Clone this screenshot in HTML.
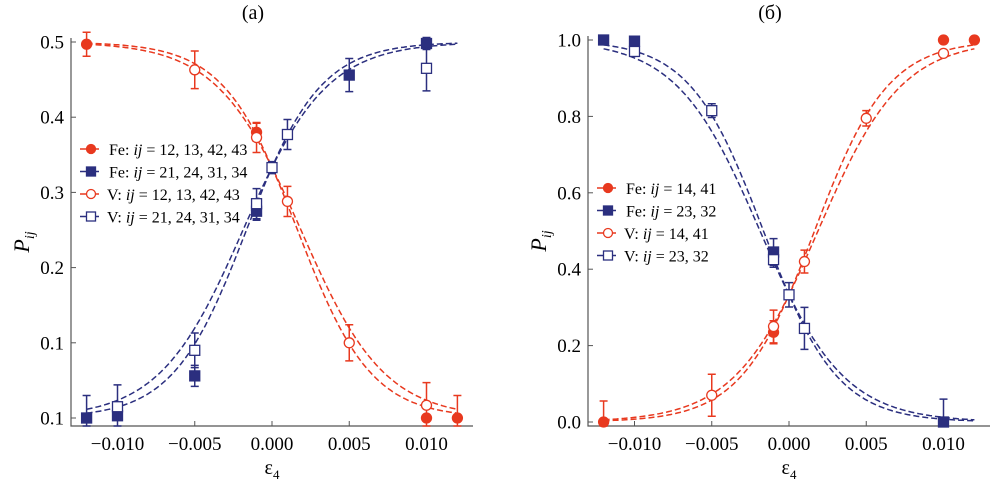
<!DOCTYPE html>
<html><head><meta charset="utf-8">
<style>
html,body{margin:0;padding:0;background:#fff;}
svg{display:block;font-family:"Liberation Serif",serif;}
</style></head>
<body>
<svg id="chart" width="998" height="487" viewBox="0 0 998 487" xmlns="http://www.w3.org/2000/svg"></svg>
<script>
// ---- data: panel (a)
const xTicks = [-0.010, -0.005, 0.000, 0.005, 0.010];
const xTickLabels = ['\u22120.010', '\u22120.005', '0.000', '0.005', '0.010'];
const aYTicks = [0, 0.1, 0.2, 0.3, 0.4, 0.5];
const aYTickLabels = ['0.1', '0.1', '0.2', '0.3', '0.4', '0.5'];
const aFeRedX = [-0.012, -0.001, 0.010, 0.012];
const aFeRedY = [0.497, 0.380, 0.0, 0.0];
const aFeRedErr = [0.016, 0.012, 0.0, 0.03];
const aVRedX = [-0.005, -0.001, 0.001, 0.005, 0.010];
const aVRedY = [0.463, 0.373, 0.288, 0.100, 0.017];
const aVRedErr = [0.025, 0.020, 0.020, 0.024, 0.030];
const aFeBlueX = [-0.012, -0.010, -0.005, -0.001, 0.005, 0.010];
const aFeBlueY = [0.0, 0.003, 0.056, 0.275, 0.456, 0.498];
const aFeBlueErr = [0.03, 0.0, 0.014, 0.012, 0.022, 0.008];
const aVBlueX = [-0.010, -0.005, -0.001, 0.000, 0.001, 0.010];
const aVBlueY = [0.015, 0.090, 0.285, 0.333, 0.377, 0.465];
const aVBlueErr = [0.029, 0.023, 0.020, 0.008, 0.020, 0.030];
// ---- data: panel (б)
const bYTicks = [0, 0.2, 0.4, 0.6, 0.8, 1.0];
const bYTickLabels = ['0.0', '0.2', '0.4', '0.6', '0.8', '1.0'];
const bFeRedX = [-0.012, -0.001, 0.010, 0.012];
const bFeRedY = [0.0, 0.235, 1.0, 1.0];
const bFeRedErr = [0.055, 0.03, 0.0, 0.0];
const bVRedX = [-0.005, -0.001, 0.001, 0.005, 0.010];
const bVRedY = [0.070, 0.250, 0.420, 0.795, 0.965];
const bVRedErr = [0.055, 0.043, 0.030, 0.020, 0.008];
const bFeBlueX = [-0.012, -0.010, -0.001, 0.010];
const bFeBlueY = [1.0, 0.997, 0.445, 0.0];
const bFeBlueErr = [0.0, 0.0, 0.035, 0.06];
const bVBlueX = [-0.010, -0.005, -0.001, 0.000, 0.001];
const bVBlueY = [0.970, 0.815, 0.425, 0.333, 0.245];
const bVBlueErr = [0.0, 0.018, 0.020, 0.032, 0.055];
// fit curve parameters [amplitude, b, k(per 0.001), sign]
const aFits = [[0.5,0.5,0.42,1,'red'],[0.5,0.5,0.37,1,'red'],[0.5,0.5,0.42,-1,'blue'],[0.5,0.5,0.37,-1,'blue']];
const bFits = [[1,2,0.42,-1,'red'],[1,2,0.37,-1,'red'],[1,2,0.42,1,'blue'],[1,2,0.37,1,'blue']];

const NS='http://www.w3.org/2000/svg';
const svg=document.getElementById('chart');
const RED='#e8391f', BLUE='#2b2f7f';
function mk(tag,attrs,parent){const e=document.createElementNS(NS,tag);for(const k in attrs)e.setAttribute(k,attrs[k]);(parent||svg).appendChild(e);return e;}

function panel(cfg){
  const g=mk('g',{});
  
  
  const sx=v=>cfg.x0+v*1000*15.45;
  const sy=v=>cfg.y0-v*cfg.ppu;
  const ax=mk('path',{d:`M${cfg.left},${cfg.top} V${cfg.bottom} H${cfg.right}`,stroke:'#555',fill:'none','stroke-width':1.2},g);
  
  
  cfg.yTicks.forEach((t,i)=>{
    const y=sy(t);
    mk('line',{x1:cfg.left,x2:cfg.left+5,y1:y,y2:y,stroke:'#555'},g);
    const tx=mk('text',{x:cfg.left-7,y:y+6.5,'text-anchor':'end','font-size':19},g);
    tx.textContent=cfg.yLabels[i];
    
    
  });
  xTicks.forEach((t,i)=>{
    const x=sx(t);
    mk('line',{x1:x,x2:x,y1:cfg.bottom,y2:cfg.bottom-5,stroke:'#555'},g);
    const tx=mk('text',{x:x,y:cfg.bottom+24,'text-anchor':'middle','font-size':19},g);
    tx.textContent=xTickLabels[i];
    
    
  });
  const ti=mk('text',{x:sx(0)-19,y:19,'text-anchor':'middle','font-size':20},g);
  ti.textContent=cfg.title;
  
  
  const xl=mk('text',{x:sx(0),y:474,'text-anchor':'middle','font-size':20},g);
  xl.innerHTML='\u03b5<tspan font-size="13" dy="5">4</tspan>';
  
  
  const yl=mk('text',{transform:`translate(${cfg.left-42},${(cfg.top+cfg.bottom)/2+10}) rotate(-90)`,'text-anchor':'middle','font-size':22,'font-style':'italic'},g);
  yl.innerHTML='P<tspan font-size="14" dy="5">ij</tspan>';
  
  
  cfg.fits.forEach(f=>{
    let d='';
    for(let i=0;i<=200;i++){const xv=-0.012+i*0.024/200;const y=f[0]/(1+f[1]*Math.exp(f[3]*f[2]*xv*1000));d+=(i?'L':'M')+sx(xv).toFixed(1)+','+sy(y).toFixed(1);}
    const p=mk('path',{d:d,fill:'none',stroke:f[4]=='red'?RED:BLUE,'stroke-width':1.5,'stroke-dasharray':'6,3'},g);
    
    
  });
  function series(xs,ys,es,color,shape,filled,name){
    const sg=mk('g',{},g);
    
    
    xs.forEach((xv,i)=>{
      const x=sx(xv),y=sy(ys[i]);
      if(es[i]>0){const y1=Math.min(sy(ys[i]-es[i]),cfg.bottom),y2=sy(ys[i]+es[i]);
        mk('path',{d:`M${x},${y1}V${y2}M${x-4},${y1}H${x+4}M${x-4},${y2}H${x+4}`,stroke:color,'stroke-width':1.5,fill:'none'},sg);}
      const a={stroke:color,'stroke-width':1.3,fill:filled?color:'#fff'};
      let m;
      if(shape=='c') m=mk('circle',Object.assign({cx:x,cy:y,r:5},a),sg);
      else m=mk('rect',Object.assign({x:x-5,y:y-5,width:10,height:10},a),sg);
      
      
    });
  }
  series(cfg.d[0][0],cfg.d[0][1],cfg.d[0][2],RED,'c',true,'fe-red-series');
  series(cfg.d[1][0],cfg.d[1][1],cfg.d[1][2],BLUE,'s',true,'fe-blue-series');
  series(cfg.d[2][0],cfg.d[2][1],cfg.d[2][2],RED,'c',false,'v-red-series');
  series(cfg.d[3][0],cfg.d[3][1],cfg.d[3][2],BLUE,'s',false,'v-blue-series');
  const lg=mk('g',{},g);
  
  
  const items=[[RED,'c',true],[BLUE,'s',true],[RED,'c',false],[BLUE,'s',false]];
  items.forEach((it,i)=>{
    const y=cfg.legY+i*22.5;
    const eg=mk('g',{},lg);
    
    
    mk('line',{x1:cfg.legX,x2:cfg.legX+20,y1:y,y2:y,stroke:it[0],'stroke-width':1.5,'stroke-dasharray':'8,3'},eg);
    const mx=cfg.legX+11;
    const a={stroke:it[0],'stroke-width':1.3,fill:it[2]?it[0]:'#fff'};
    if(it[1]=='c') mk('circle',Object.assign({cx:mx,cy:y,r:4.5},a),eg);
    else mk('rect',Object.assign({x:mx-4.5,y:y-4.5,width:9,height:9},a),eg);
    const t=mk('text',{x:cfg.legX+(it[2]?29:27),y:y+6,'font-size':16},eg);
    t.innerHTML=cfg.leg[i];
  });
}
panel({name:'panel-a',title:'(a)',x0:272,y0:418,ppu:752,left:71,right:473,top:38,bottom:426,
  yTicks:aYTicks,yLabels:aYTickLabels,fits:aFits,legX:80,legY:149,
  d:[[aFeRedX,aFeRedY,aFeRedErr],[aFeBlueX,aFeBlueY,aFeBlueErr],[aVRedX,aVRedY,aVRedErr],[aVBlueX,aVBlueY,aVBlueErr]],
  leg:['Fe: <tspan font-style="italic">ij</tspan> = 12, 13, 42, 43','Fe: <tspan font-style="italic">ij</tspan> = 21, 24, 31, 34','V: <tspan font-style="italic">ij</tspan> = 12, 13, 42, 43','V: <tspan font-style="italic">ij</tspan> = 21, 24, 31, 34']});
panel({name:'panel-b',title:'(\u0431)',x0:789,y0:422,ppu:382,left:588,right:990,top:36,bottom:426,
  yTicks:bYTicks,yLabels:bYTickLabels,fits:bFits,legX:597,legY:188,
  d:[[bFeRedX,bFeRedY,bFeRedErr],[bFeBlueX,bFeBlueY,bFeBlueErr],[bVRedX,bVRedY,bVRedErr],[bVBlueX,bVBlueY,bVBlueErr]],
  leg:['Fe: <tspan font-style="italic">ij</tspan> = 14, 41','Fe: <tspan font-style="italic">ij</tspan> = 23, 32','V: <tspan font-style="italic">ij</tspan> = 14, 41','V: <tspan font-style="italic">ij</tspan> = 23, 32']});
</script>
</body></html>
